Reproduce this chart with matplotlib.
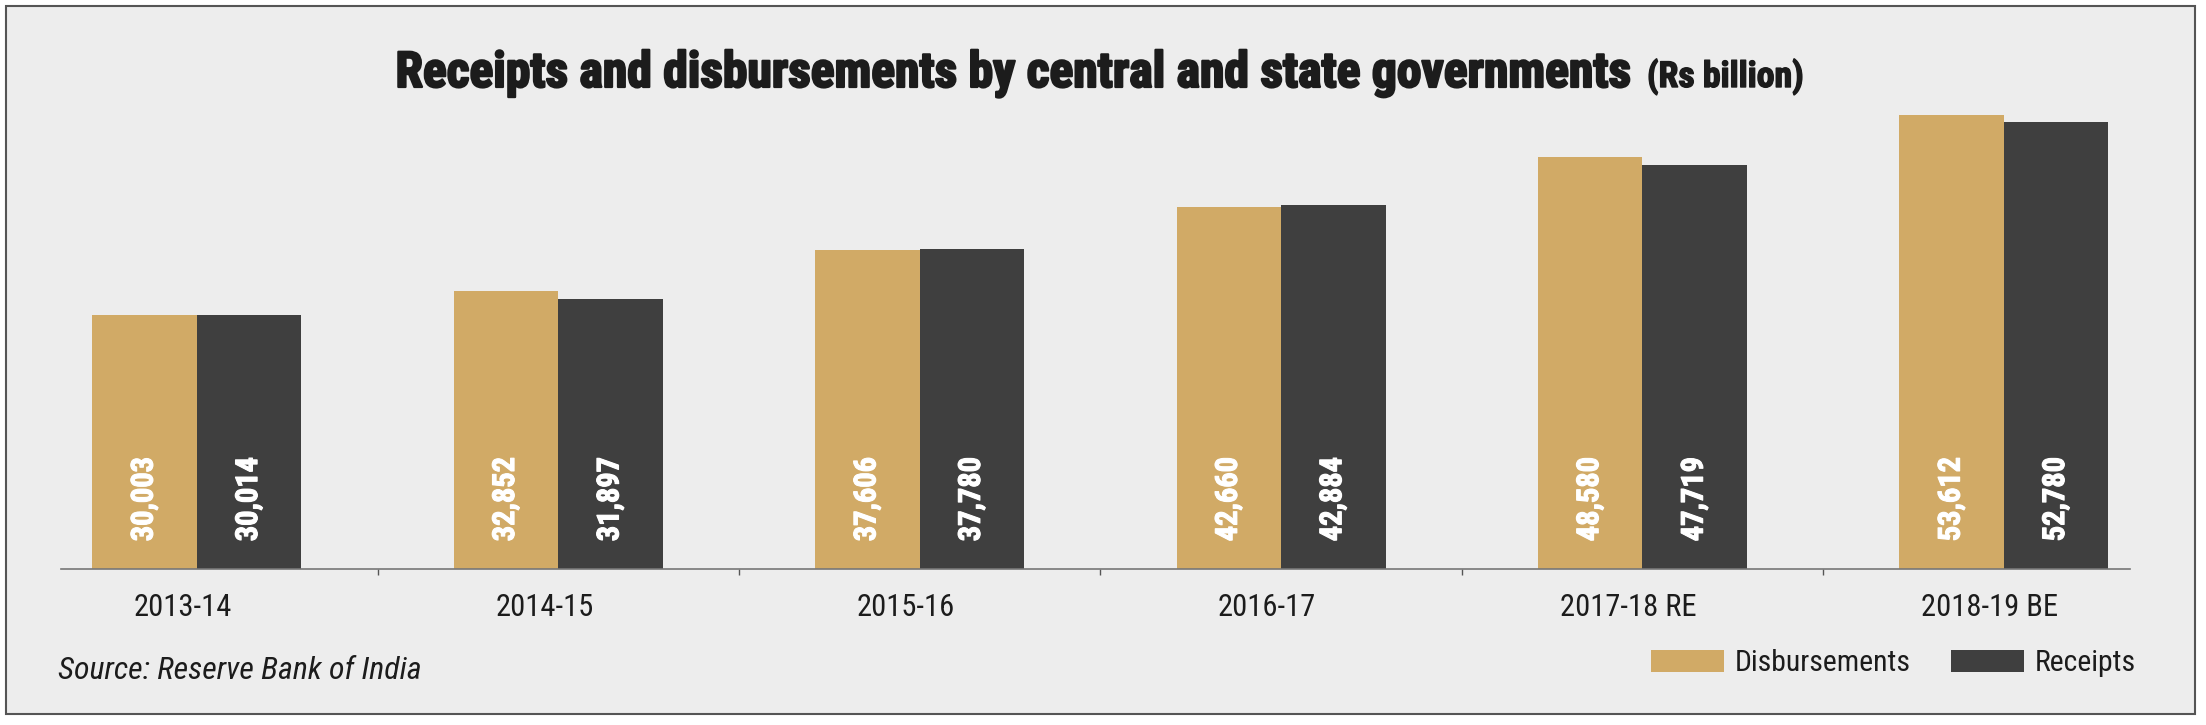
import numpy as np
import matplotlib
matplotlib.use("Agg")
import matplotlib.pyplot as plt
from matplotlib.patches import Rectangle, Patch
from matplotlib.transforms import ScaledTranslation
import matplotlib.patheffects as pe

# data (Rs billion)
years = ["2013-14", "2014-15", "2015-16", "2016-17", "2017-18 RE", "2018-19 BE"]
disbursements = [30003, 32852, 37606, 42660, 48580, 53612]
receipts = [30014, 31897, 37780, 42884, 47719, 52780]

tan = "#D1AA66"
dark = "#3F3F3F"
bg = "#EDEDED"
ink = "#1C1C1C"
narrow = ["Roboto Condensed", "Open Sans Condensed", "Noto Sans Condensed",
          "Liberation Sans Narrow", "DejaVu Sans"]
cond = "condensed"

W, H = 2206, 725
fig = plt.figure(figsize=(W / 100, H / 100), dpi=100, facecolor="white")
rend = fig.canvas.get_renderer()


def size_for(s, target_px, **kw):
    # font size (pt) that makes string s about target_px wide
    t = fig.text(0, 0, s, fontsize=20, family=narrow, fontstretch=cond, **kw)
    wpx = t.get_window_extent(rend).width
    t.remove()
    return 20 * target_px / wpx


# grey panel with dark frame
fig.patches.append(Rectangle((6 / W, 11 / H), 2189 / W, 708 / H, transform=fig.transFigure,
                             facecolor=bg, edgecolor="#555555", lw=1.5, zorder=-1))

ax = fig.add_axes([61 / W, 156 / H, 2069 / W, 508.6 / H])
ax.set_zorder(2)
ax.set_facecolor("none")

x = np.arange(len(years))
w = 0.289
b1 = ax.bar(x - w / 2, disbursements, w, color=tan, label="Disbursements")
b2 = ax.bar(x + w / 2, receipts, w, color=dark, label="Receipts")

val_fs = size_for("30,003", 84, fontweight="bold")
for bars, vals in [(b1, disbursements), (b2, receipts)]:
    for r, v in zip(bars, vals):
        ax.annotate(f"{v:,}", (r.get_x() + r.get_width() / 2, 0), xytext=(0, 20),
                    textcoords="offset points", rotation=90, ha="center", va="bottom",
                    color="white", fontsize=val_fs, fontweight="bold", family=narrow,
                    fontstretch=cond,
                    path_effects=[pe.withStroke(linewidth=0.8, foreground="white")])

ax.set_xlim(-0.376, 5.349)
ax.set_ylim(0, 60000)
for s in ["left", "right", "top"]:
    ax.spines[s].set_visible(False)
ax.spines["bottom"].set_color("#777777")
ax.spines["bottom"].set_linewidth(1.2)
ax.set_yticks([])
ax.set_xticks(x)
tick_fs = size_for("2013-14", 98)
ax.set_xticklabels(years, family=narrow, fontsize=tick_fs, color=ink, fontstretch=cond)
ax.tick_params(axis="x", which="major", length=0, pad=17)
# labels sit a little left of the group centres in the original
shift = ScaledTranslation(-14 / 100, 0, fig.dpi_scale_trans)
for lab in ax.get_xticklabels():
    lab.set_transform(lab.get_transform() + shift)
ax.set_xticks(x[:-1] + 0.5, minor=True)
ax.tick_params(axis="x", which="minor", length=4, width=1, color="#555555", direction="out")

# title in two parts, both sized to their widths in the reference
main = "Receipts and disbursements by central and state governments"
fig.text(1632 / W, 1 - 87 / H, main, ha="right", va="baseline",
         fontsize=size_for(main, 1232, fontweight="bold"), fontweight="bold",
         family=narrow, fontstretch=cond, color=ink,
         path_effects=[pe.withStroke(linewidth=1.6, foreground=ink)])
fig.text(1647 / W, 1 - 87 / H, "(Rs billion)", ha="left", va="baseline",
         fontsize=size_for("(Rs billion)", 157, fontweight="bold"), fontweight="bold",
         family=narrow, fontstretch=cond, color=ink,
         path_effects=[pe.withStroke(linewidth=1.0, foreground=ink)])

src = "Source: Reserve Bank of India"
fig.text(58 / W, 1 - 679 / H, src, ha="left", va="baseline",
         fontsize=size_for(src, 364, style="italic"), style="italic",
         family=narrow, fontstretch=cond, color=ink)

leg_fs = size_for("Disbursements", 176)
fpx = leg_fs * 100 / 72
handles = [Patch(facecolor=tan), Patch(facecolor=dark)]
fig.legend(handles, ["Disbursements", "Receipts"], loc="center right",
           bbox_to_anchor=(2136 / W, 1 - 663 / H), ncol=2, frameon=False,
           prop={"family": narrow, "size": leg_fs, "stretch": cond},
           handlelength=73 / fpx, handleheight=22.5 / fpx, handletextpad=11 / fpx,
           columnspacing=40 / fpx, borderpad=0, borderaxespad=0, labelcolor=ink)

fig.savefig("out.png", dpi=100, facecolor="white")
